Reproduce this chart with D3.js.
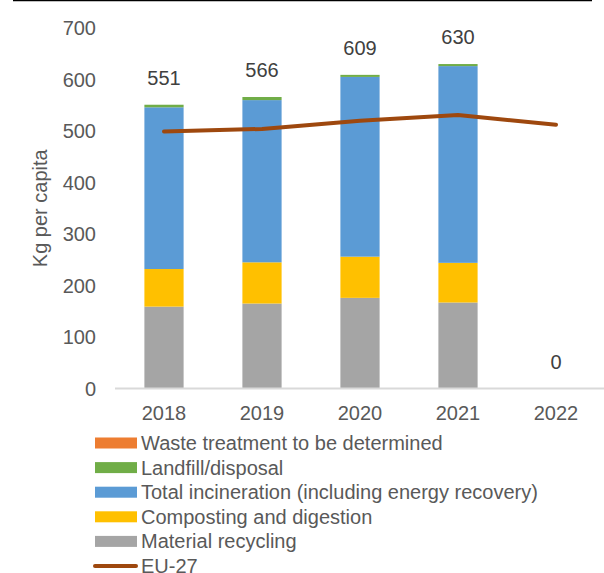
<!DOCTYPE html>
<html>
<head>
<meta charset="utf-8">
<script src="https://cdn.jsdelivr.net/npm/d3@7"></script>
<style>
  body { margin: 0; background: #fff; }
  svg { display: block; font-family: "Liberation Sans", Arial, sans-serif; }
</style>
</head>
<body>
<div id="chart"></div>
<script>
// Municipal waste treatment, kg per capita

const years = ["2018", "2019", "2020", "2021", "2022"];
const recycling = [159, 165, 176, 167, 0];
const composting = [73, 80, 80, 77, 0];
const incineration = [314, 315, 349, 382, 0];
const landfill = [5, 6, 4, 4, 0];
const toBeDetermined = [0, 0, 0, 0, 0];
const totals = [551, 566, 609, 630, 0];
const eu27 = [499, 504, 520, 531, 512];
const yTicks = [0, 100, 200, 300, 400, 500, 600, 700];

const seriesNames = [
    "Material recycling",
    "Composting and digestion",
    "Total incineration (including energy recovery)",
    "Landfill/disposal",
    "Waste treatment to be determined"
];
const seriesValues = [recycling, composting, incineration, landfill, toBeDetermined];
const colors = ["#a5a5a5", "#ffc000", "#5b9bd5", "#70ad47", "#ed7d31"];
const lineColor = "#9e480e";

const width = 604, height = 573;
const margin = { top: 28, right: 0, bottom: 184, left: 115 };

// build rows for d3.stack
const rows = years.map((y, i) => {
    let r = { year: y };
    seriesNames.forEach((s, j) => r[s] = seriesValues[j][i]);
    return r;
});
const stacked = d3.stack().keys(seriesNames)(rows);

const x = d3.scaleBand()
    .domain(years)
    .range([margin.left, width - margin.right + 1])
    .paddingInner(0.6)
    .paddingOuter(0.3);

const y = d3.scaleLinear()
    .domain([0, 700])
    .range([388.5, margin.top]);

const svg = d3.select("#chart")
    .append("svg")
    .attr("width", width)
    .attr("height", height);

// thin dark rule along the top
svg.append("line")
    .attr("x1", 13).attr("x2", 592)
    .attr("y1", 0.5).attr("y2", 0.5)
    .attr("stroke", "#000")
    .attr("stroke-width", 1.5);

// y tick labels
svg.append("g")
    .selectAll("text")
    .data(yTicks)
    .join("text")
    .attr("x", 96)
    .attr("y", d => y(d))
    .attr("dy", "0.35em")
    .attr("text-anchor", "end")
    .attr("font-size", 20)
    .attr("fill", "#595959")
    .text(d => d);

// y title
svg.append("text")
    .attr("transform", `translate(47,${y(350)}) rotate(-90)`)
    .attr("text-anchor", "middle")
    .attr("font-size", 20)
    .attr("fill", "#595959")
    .text("Kg per capita");

// stacked bars
svg.append("g")
    .selectAll("g")
    .data(stacked)
    .join("g")
    .attr("fill", (d, i) => colors[i])
    .selectAll("rect")
    .data(d => d)
    .join("rect")
    .attr("x", d => x(d.data.year))
    .attr("width", x.bandwidth())
    .attr("y", d => y(d[1]))
    .attr("height", d => y(d[0]) - y(d[1]));

// axis baseline
svg.append("line")
    .attr("x1", margin.left).attr("x2", width)
    .attr("y1", y(0)).attr("y2", y(0))
    .attr("stroke", "#d9d9d9")
    .attr("stroke-width", 2);

// x labels
svg.append("g")
    .selectAll("text")
    .data(years)
    .join("text")
    .attr("x", d => x(d) + x.bandwidth() / 2)
    .attr("y", 413)
    .attr("dy", "0.35em")
    .attr("text-anchor", "middle")
    .attr("font-size", 20)
    .attr("fill", "#595959")
    .text(d => d);

// EU-27 line
const line = d3.line()
    .x((d, i) => x(years[i]) + x.bandwidth() / 2)
    .y(d => y(d));

svg.append("path")
    .datum(eu27)
    .attr("fill", "none")
    .attr("stroke", lineColor)
    .attr("stroke-width", 4)
    .attr("stroke-linecap", "round")
    .attr("stroke-linejoin", "round")
    .attr("d", line);

// total labels
svg.append("g")
    .selectAll("text")
    .data(totals)
    .join("text")
    .attr("x", (d, i) => x(years[i]) + x.bandwidth() / 2)
    .attr("y", d => y(d) - 27)
    .attr("dy", "0.35em")
    .attr("text-anchor", "middle")
    .attr("font-size", 20)
    .attr("fill", "#404040")
    .text(d => d);

// legend (reverse order, line last)
const legendItems = seriesNames.map((s, i) => ({ name: s, color: colors[i], type: "rect" })).reverse();
legendItems.push({ name: "EU-27", color: lineColor, type: "line" });

const legend = svg.append("g")
    .selectAll("g")
    .data(legendItems)
    .join("g")
    .attr("transform", (d, i) => `translate(0,${443 + i * 24.6})`);

legend.filter(d => d.type === "rect")
    .append("rect")
    .attr("x", 95)
    .attr("y", -5.5)
    .attr("width", 42)
    .attr("height", 11)
    .attr("fill", d => d.color);

legend.filter(d => d.type === "line")
    .append("line")
    .attr("x1", 95).attr("x2", 136)
    .attr("y1", 0).attr("y2", 0)
    .attr("stroke", d => d.color)
    .attr("stroke-width", 4)
    .attr("stroke-linecap", "round");

legend.append("text")
    .attr("x", 141)
    .attr("y", 0)
    .attr("dy", "0.35em")
    .attr("font-size", 20)
    .attr("fill", "#595959")
    .text(d => d.name);
</script>
</body>
</html>
